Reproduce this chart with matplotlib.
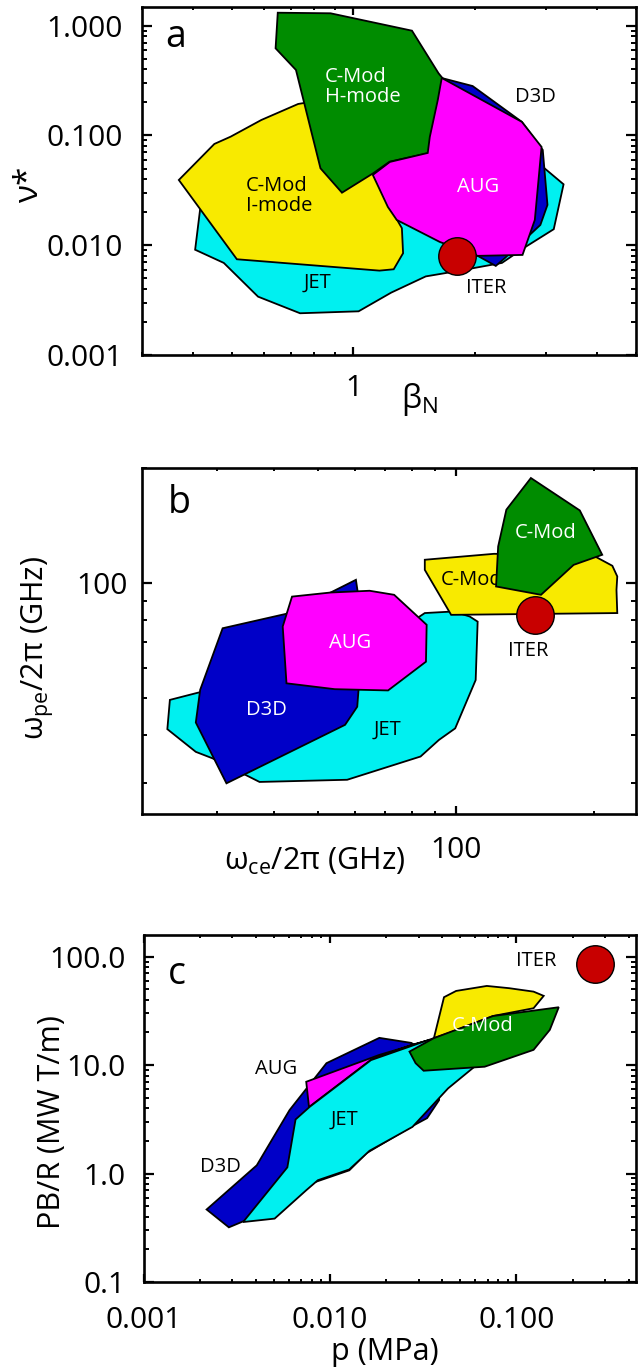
import matplotlib
matplotlib.use('Agg')
import matplotlib.pyplot as plt
import numpy as np
from matplotlib.ticker import FixedLocator, FixedFormatter, LogLocator, NullFormatter

plt.rcParams['font.family'] = ['Open Sans', 'DejaVu Sans']
plt.rcParams['mathtext.fontset'] = 'custom'
plt.rcParams['mathtext.rm'] = 'Open Sans'
plt.rcParams['mathtext.it'] = 'Open Sans:italic'
plt.rcParams['mathtext.default'] = 'regular'

# ---------------- Panel a : nu* vs beta_N ----------------
a_jet_x = [0.406, 0.418, 0.469, 0.858, 1.215, 1.72, 2.44, 2.97, 3.31, 3.13, 2.67, 2.33, 1.80, 1.51, 1.24, 1.03, 0.738, 0.581, 0.478]
a_jet_y = [0.0091, 0.0217, 0.0277, 0.0259, 0.021, 0.0196, 0.0453, 0.0502, 0.0359, 0.014, 0.0097, 0.0069, 0.0058, 0.0052, 0.0037, 0.0025, 0.0024, 0.0034, 0.0069]
a_d3d_x = [1.545, 1.972, 2.61, 2.94, 3.02, 2.90, 2.37, 2.25, 2.03, 1.636, 1.288, 1.217, 1.162, 1.303]
a_d3d_y = [0.356, 0.282, 0.133, 0.0738, 0.0233, 0.0153, 0.00765, 0.00648, 0.0080, 0.01117, 0.0170, 0.0233, 0.0738, 0.210]
a_imode_x = [0.370, 0.453, 0.497, 0.592, 0.730, 0.838, 1.033, 1.12, 1.201, 1.318, 1.327, 1.258, 1.160, 0.515]
a_imode_y = [0.0393, 0.0837, 0.0975, 0.1384, 0.1936, 0.2105, 0.1203, 0.0453, 0.0259, 0.0143, 0.00846, 0.00604, 0.00587, 0.00745]
a_hmode_x = [0.650, 0.878, 1.396, 1.624, 1.662, 1.532, 1.229, 1.12, 0.937, 0.829, 0.721, 0.642]
a_hmode_y = [1.313, 1.297, 0.9006, 0.3685, 0.332, 0.0689, 0.0577, 0.0453, 0.0301, 0.0502, 0.395, 0.622]
a_aug_x = [1.654, 2.61, 2.92, 2.81, 2.62, 2.03, 1.635, 1.28, 1.217, 1.117, 1.231, 1.527, 1.545, 1.617]
a_aug_y = [0.334, 0.133, 0.0786, 0.0170, 0.00816, 0.0080, 0.01072, 0.0170, 0.0223, 0.0437, 0.0574, 0.0693, 0.0969, 0.2106]
a_iter = (1.80, 0.0080)

# ---------------- Panel b : omega_pe vs omega_ce ----------------
b_jet_x = [23.7, 27.3, 42.5, 61.5, 85.4, 98.6, 107.0, 111.4, 110.3, 99.5, 91.7, 83.6, 57.8, 37.2, 29.4, 27.0, 23.4]
b_jet_y = [49.5, 51.7, 58.1, 64.3, 83.5, 84.3, 81.8, 79.3, 55.8, 41.7, 38.9, 35.2, 30.6, 30.2, 34.8, 36.2, 41.5]
b_d3d_x = [30.9, 42.5, 53.2, 60.4, 61.0, 61.2, 60.8, 57.2, 31.5, 27.0, 27.6]
b_d3d_y = [76.2, 83.1, 94.5, 102.0, 94.1, 52.6, 47.5, 42.6, 29.95, 43.2, 52.6]
b_aug_x = [43.8, 53.2, 64.7, 73.2, 86.2, 85.9, 71.0, 54.3, 42.6, 41.8]
b_aug_y = [92.2, 94.5, 95.5, 93.2, 77.8, 62.3, 52.4, 52.8, 54.7, 77.0]
b_imode_x = [85.4, 121.0, 202.1, 219.3, 224.8, 223.9, 224.8, 97.5, 85.4]
b_imode_y = [115.1, 119.3, 117.0, 111.0, 104.1, 96.0, 83.5, 82.6, 108.3]
b_hmode_x = [145.6, 186.2, 208.4, 180.5, 153.2, 122.2, 123.5, 128.7]
b_hmode_y = [188.3, 154.9, 118.6, 111.6, 93.2, 98.0, 124.7, 155.6]
b_iter = (148.5, 82.6)

# ---------------- Panel c : PB/R vs p ----------------
c_d3d_x = [0.00218, 0.00405, 0.00607, 0.00958, 0.0184, 0.0273, 0.0385, 0.0385, 0.0332, 0.0276, 0.0157, 0.0127, 0.00826, 0.0073, 0.00475, 0.00287]
c_d3d_y = [0.466, 1.19, 3.84, 10.4, 17.8, 16.0, 11.1, 4.75, 3.24, 2.73, 1.54, 1.07, 0.83, 0.70, 0.458, 0.319]
c_jet_x = [0.00342, 0.00505, 0.00746, 0.00861, 0.0127, 0.0163, 0.0277, 0.0430, 0.0596, 0.0630, 0.0436, 0.0361, 0.0166, 0.00779, 0.00654, 0.00591]
c_jet_y = [0.357, 0.384, 0.701, 0.867, 1.09, 1.62, 2.69, 6.09, 9.65, 12.4, 17.0, 17.7, 11.1, 4.12, 3.15, 1.14]
c_aug_x = [0.00746, 0.00772, 0.0165, 0.0273, 0.0341, 0.0184]
c_aug_y = [7.01, 4.10, 11.1, 15.3, 17.0, 12.4]
c_imode_x = [0.0361, 0.0409, 0.0475, 0.0694, 0.0914, 0.1236, 0.1401, 0.1236, 0.0749, 0.0436]
c_imode_y = [17.7, 42.2, 48.2, 53.6, 51.1, 47.5, 43.4, 33.4, 28.3, 19.8]
c_hmode_x = [0.0267, 0.0288, 0.0318, 0.0676, 0.1236, 0.1511, 0.1687, 0.0749, 0.0361]
c_hmode_y = [13.3, 10.4, 8.86, 9.65, 13.8, 21.1, 34.1, 28.3, 17.7]
c_iter = (0.265, 85.6)

# tick labels
a_xticks, a_xlabels = [1], ['1']
a_yticks, a_ylabels = [0.001, 0.01, 0.1, 1.0], ['0.001', '0.010', '0.100', '1.000']
b_xticks, b_xlabels = [100], ['100']
b_yticks, b_ylabels = [100], ['100']
c_xticks, c_xlabels = [0.001, 0.01, 0.1], ['0.001', '0.010', '0.100']
c_yticks, c_ylabels = [0.1, 1.0, 10.0, 100.0], ['0.1', '1.0', '10.0', '100.0']

# colours
CYAN = '#00f0f0'
BLUE = '#0000c8'
MAGENTA = '#ff00ff'
YELLOW = '#f8ea00'
GREEN = '#008c00'
RED = '#c80000'

W, H = 638, 1371
fig = plt.figure(figsize=(W / 100, H / 100), dpi=100)


def px_axes(l, t, r, b):
    return fig.add_axes([l / W, 1 - b / H, (r - l) / W, (b - t) / H])


def setup(ax, xlim, ylim, xt, xl, yt, yl, ypad, xpad):
    ax.set_xscale('log')
    ax.set_yscale('log')
    ax.set_xlim(*xlim)
    ax.set_ylim(*ylim)
    ax.xaxis.set_major_locator(FixedLocator(xt))
    ax.xaxis.set_major_formatter(FixedFormatter(xl))
    ax.yaxis.set_major_locator(FixedLocator(yt))
    ax.yaxis.set_major_formatter(FixedFormatter(yl))
    for axis in (ax.xaxis, ax.yaxis):
        axis.set_minor_locator(LogLocator(base=10, subs=np.arange(2, 10), numticks=50))
        axis.set_minor_formatter(NullFormatter())
    ax.tick_params(which='both', direction='in', top=True, right=True, colors='black')
    ax.tick_params(which='major', width=1.6, labelsize=21.5)
    ax.tick_params(which='minor', width=1.4)
    ax.tick_params(axis='y', which='major', length=7.5, pad=ypad)
    ax.tick_params(axis='y', which='minor', length=3.8)
    ax.tick_params(axis='x', which='major', length=5.5, pad=xpad)
    ax.tick_params(axis='x', which='minor', length=2.5)
    for s in ax.spines.values():
        s.set_linewidth(1.9)


def poly(ax, x, y, color, z):
    ax.fill(x, y, facecolor=color, edgecolor='black', linewidth=1.3, zorder=z)


def iter_pt(ax, p):
    ax.plot([p[0]], [p[1]], 'o', ms=27, mfc=RED, mec='black', mew=1.0, zorder=10, clip_on=False)


def lab(ax, fx, fy, s, color='black', ha='center', z=9, size=14.5):
    ax.text(fx, fy, s, transform=ax.transAxes, color=color, ha=ha, va='center',
            fontsize=size, zorder=z, linespacing=0.95)


# Panel a
axa = px_axes(142, 7, 636, 355)
setup(axa, (0.3, 5.0), (0.001, 1.48), a_xticks, a_xlabels, a_yticks, a_ylabels, 14, 14)
poly(axa, a_jet_x, a_jet_y, CYAN, 2)
poly(axa, a_d3d_x, a_d3d_y, BLUE, 3)
poly(axa, a_imode_x, a_imode_y, YELLOW, 4)
poly(axa, a_hmode_x, a_hmode_y, GREEN, 5)
poly(axa, a_aug_x, a_aug_y, MAGENTA, 6)
iter_pt(axa, a_iter)
lab(axa, 0.370, 0.770, 'C-Mod\nH-mode', 'white', ha='left')
lab(axa, 0.2105, 0.457, 'C-Mod\nI-mode', ha='left')
lab(axa, 0.796, 0.741, 'D3D')
lab(axa, 0.680, 0.483, 'AUG', 'white')
lab(axa, 0.356, 0.207, 'JET')
lab(axa, 0.696, 0.193, 'ITER')
axa.text(0.069, 0.914, 'a', transform=axa.transAxes, fontsize=27, ha='center', va='center')

# Panel b
axb = px_axes(142, 468, 636, 814)
setup(axb, (20.6, 247), (24.9, 200), b_xticks, b_xlabels, b_yticks, b_ylabels, 10, 16)
poly(axb, b_jet_x, b_jet_y, CYAN, 2)
poly(axb, b_d3d_x, b_d3d_y, BLUE, 3)
poly(axb, b_aug_x, b_aug_y, MAGENTA, 4)
poly(axb, b_imode_x, b_imode_y, YELLOW, 5)
lab(axb, 0.604, 0.676, 'C-Mod', ha='left', z=5.5)
poly(axb, b_hmode_x, b_hmode_y, GREEN, 6)
iter_pt(axb, b_iter)
lab(axb, 0.818, 0.813, 'C-Mod', 'white')
lab(axb, 0.781, 0.472, 'ITER')
lab(axb, 0.4215, 0.4933, 'AUG', 'white')
lab(axb, 0.2512, 0.3006, 'D3D', 'white')
lab(axb, 0.4976, 0.2447, 'JET')
axb.text(0.076, 0.898, 'b', transform=axb.transAxes, fontsize=27, ha='center', va='center')

# Panel c
axc = px_axes(143.5, 935, 636, 1282)
setup(axc, (0.001, 0.438), (0.1, 158), c_xticks, c_xlabels, c_yticks, c_ylabels, 13, 17)
poly(axc, c_d3d_x, c_d3d_y, BLUE, 2)
poly(axc, c_aug_x, c_aug_y, MAGENTA, 3)
poly(axc, c_jet_x, c_jet_y, CYAN, 4)
poly(axc, c_imode_x, c_imode_y, YELLOW, 5)
poly(axc, c_hmode_x, c_hmode_y, GREEN, 6)
iter_pt(axc, c_iter)
lab(axc, 0.797, 0.924, 'ITER')
lab(axc, 0.6877, 0.7375, 'C-Mod', 'white')
lab(axc, 0.270, 0.6126, 'AUG')
lab(axc, 0.408, 0.4664, 'JET')
lab(axc, 0.1553, 0.3317, 'D3D')
axc.text(0.068, 0.8875, 'c', transform=axc.transAxes, fontsize=27, ha='center', va='center')

# axis labels (figure pixel positions)
def ftext(x, y, s, rot=0, size=22):
    fig.text(x / W, 1 - y / H, s, ha='center', va='center', rotation=rot, fontsize=size)

ftext(30, 185, 'ν*', rot=90, size=24)
ftext(420, 400, r'$\beta_{N}$', size=23)
ftext(38, 648, r'$\omega_{pe}/2\pi$ (GHz)', rot=90)
ftext(315, 861, r'$\omega_{ce}/2\pi$ (GHz)')
ftext(52, 1122, 'PB/R (MW T/m)', rot=90)
ftext(385, 1352, 'p (MPa)')

fig.savefig('out.png', dpi=100)
